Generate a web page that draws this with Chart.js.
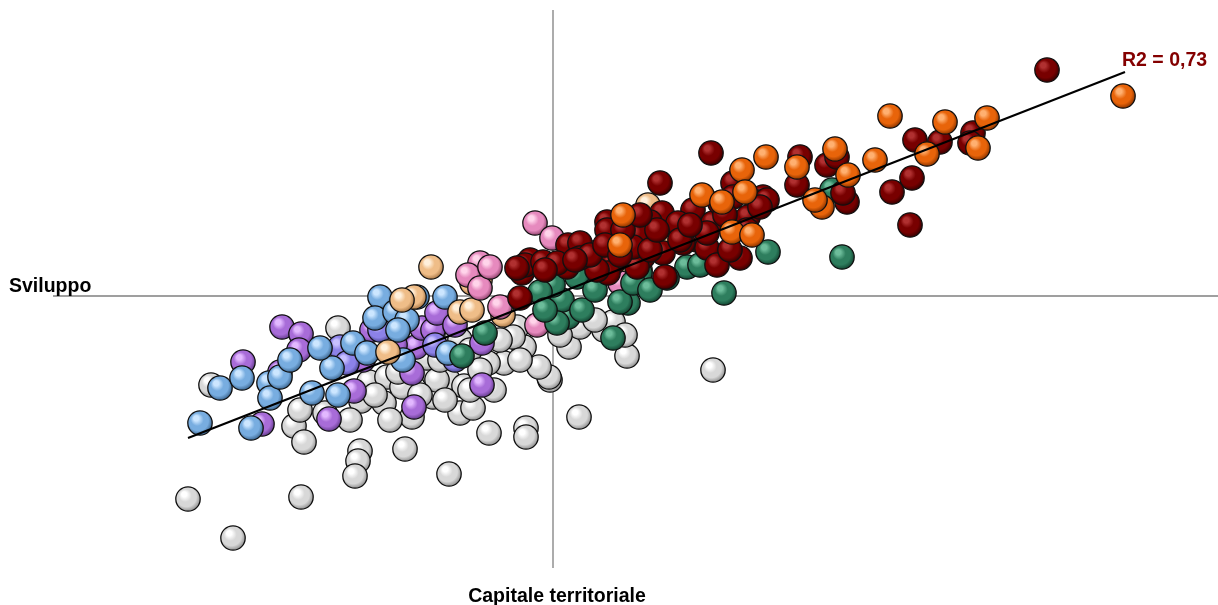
<!DOCTYPE html>
<html>
<head>
<meta charset="utf-8">
<script src="https://cdn.jsdelivr.net/npm/chart.js@4/dist/chart.umd.min.js"></script>
<style>
  body { margin: 0; background: #fff; }
  #wrap { width: 1218px; height: 605px; }
</style>
</head>
<body>
<div id="wrap"><canvas id="chart" width="1218" height="605"></canvas></div>
<script>
// scores: [capitale territoriale, sviluppo]
const white = [[-3.65,-2.03],[-3.20,-2.42],[-2.52,-2.01],[-3.42,-0.89],[-2.15,-0.32],[-2.59,-1.30],[-2.49,-1.46],
  [-1.93,-1.55],[-1.95,-1.65],[-1.98,-1.80],[-1.48,-1.53],[-1.04,-1.78],[-1.19,-0.79],[-1.20,-1.01],[-0.93,-1.17],
  [-1.69,-1.07],[-1.41,-1.21],[-1.92,-1.05],[-1.84,-0.86],[-1.66,-0.81],[-1.51,-0.91],[-1.05,-0.84],[-0.89,-0.90],
  [-2.28,-1.17],[-0.96,-0.41],[-1.26,-0.62],[-0.64,-1.37],[-0.27,-1.32],[-0.27,-1.41],[0.26,-1.21],[-0.03,-0.84],
  [-0.80,-1.12],[-0.59,-0.94],[-1.16,-0.84],[-0.29,-0.51],[-0.36,-0.31],[0.16,-0.51],[-0.04,-0.81],[-0.14,-0.71],
  [-0.49,-0.67],[-0.93,-0.44],[-0.40,-0.41],[0.51,-0.34],[0.60,-0.26],[0.74,-0.60],[0.72,-0.39],[0.27,-0.31],
  [-0.65,-0.67],[1.60,-0.74],[-0.83,-0.54],[-2.03,-1.24],[-1.78,-0.99],[-1.33,-0.99],[-1.08,-1.04],[-0.83,-0.94],
  [-0.73,-0.74],[-0.33,-0.64],[-0.53,-0.44],[-1.13,-0.64],[-1.55,-0.76],[0.07,-0.39],[0.42,-0.24],[-2.53,-1.14],
  [-1.63,-1.24]];
const purple = [[-2.71,-0.31],[-2.52,-0.38],[-2.54,-0.54],[-3.10,-0.66],[-2.73,-0.76],[-2.91,-1.28],[-2.24,-1.23],
  [-1.39,-1.11],[-1.99,-0.95],[-1.41,-0.77],[-1.37,-0.51],[-1.90,-0.64],[-1.81,-0.34],[-1.31,-0.32],[-1.20,-0.34],
  [-1.16,-0.17],[-0.71,-0.89],[-0.71,-0.47],[-1.68,-0.29],[-0.98,-0.29],[-1.58,-0.49]];
const periwinkle = [[-2.13,-0.51],[-2.06,-0.67],[-1.73,-0.34],[-1.18,-0.49],[-0.98,-0.64]];
const blue = [[-3.53,-1.27],[-3.33,-0.92],[-3.11,-0.82],[-2.84,-0.87],[-2.83,-1.02],[-2.73,-0.81],[-3.02,-1.32],
  [-2.41,-0.97],[-2.15,-0.99],[-2.21,-0.72],[-2.33,-0.52],[-2.00,-0.47],[-1.86,-0.57],[-1.73,-0.01],[-1.78,-0.22],
  [-1.58,-0.16],[-1.46,-0.24],[-1.55,-0.34],[-1.36,-0.01],[-1.08,-0.01],[-1.50,-0.64],[-1.05,-0.57],[-2.63,-0.64]];
const tan = [[-1.22,0.29],[-1.39,-0.01],[-1.51,-0.04],[-1.65,-0.56],[-0.93,-0.16],[-0.81,-0.14],[-0.50,-0.19],
  [-0.73,0.16],[-0.81,0.13],[0.95,0.91],[0.40,0.43],[1.07,0.56],[0.69,0.33],[0.87,0.26]];
const pink = [[-0.18,0.73],[-0.01,0.58],[-0.73,0.33],[-0.85,0.21],[-0.73,0.08],[-0.63,0.29],[-0.16,-0.29],
  [-0.53,-0.11],[0.67,0.13]];
const green = [[-0.91,-0.60],[-0.68,-0.37],[0.15,-0.21],[0.09,-0.04],[0.29,-0.14],[0.24,0.19],[0.00,0.11],
  [-0.13,0.04],[0.04,-0.27],[0.75,-0.07],[0.67,-0.06],[0.60,-0.42],[2.15,0.44],[2.89,0.39],[1.71,0.03],
  [1.34,0.29],[1.14,0.18],[0.87,0.23],[2.79,1.06],[0.80,0.13],[0.47,0.34],[0.42,0.06],[-0.08,-0.14],
  [0.97,0.06],[1.47,0.31]];
const red = [[4.94,2.26],[3.62,1.56],[3.87,1.54],[4.20,1.63],[4.17,1.53],[3.59,1.18],[3.39,1.04],[3.57,0.71],
  [2.94,0.94],[2.90,1.03],[2.47,1.39],[2.44,1.11],[2.74,1.31],[2.84,1.39],[1.58,1.43],[1.07,1.13],[1.80,1.13],
  [2.10,0.99],[2.04,0.94],[1.40,0.86],[1.60,0.73],[1.95,0.79],[1.80,0.99],[1.67,0.93],[1.09,0.83],[0.97,0.74],
  [1.25,0.73],[0.54,0.74],[0.54,0.66],[0.79,0.56],[1.44,0.56],[1.54,0.48],[1.30,0.53],[1.10,0.43],[0.90,0.39],
  [0.84,0.29],[1.12,0.19],[1.64,0.31],[1.87,0.38],[0.60,0.33],[0.55,0.23],[0.15,0.51],[0.27,0.53],[0.14,0.29],
  [0.44,0.26],[-0.33,-0.02],[-0.31,0.23],[-0.23,0.36],[-0.28,0.31],[-0.10,0.34],[0.04,0.33],[0.27,0.38],
  [-0.36,0.28],[2.14,0.96],[0.84,0.61],[0.80,0.49],[0.97,0.46],[1.04,0.66],[1.27,0.56],[1.54,0.63],[1.77,0.46],
  [1.94,0.66],[2.07,0.89],[0.37,0.41],[0.22,0.36],[-0.08,0.26],[0.70,0.66],[0.87,0.81],[1.37,0.71],[1.72,0.81],
  [0.52,0.51],[0.67,0.41]];
const orange = [[5.70,2.00],[3.37,1.80],[3.92,1.74],[4.34,1.78],[4.25,1.48],[3.74,1.42],[3.22,1.36],[2.82,1.47],
  [2.44,1.29],[2.95,1.21],[2.69,0.89],[2.62,0.96],[2.13,1.39],[1.89,1.26],[1.49,1.01],[1.69,0.94],[1.92,1.04],
  [1.79,0.64],[1.99,0.61],[0.70,0.81],[0.67,0.51]];
const trendX = [-3.65, 5.72];
const trendY = [-1.42, 2.24];
const r2Label = "R2 = 0,73";
const xTitle = "Capitale territoriale";
const yTitle = "Sviluppo";

// highlight, base, shadow
const palette = {
  white: ["#ffffff", "#d8d8d8", "#9c9c9c"],
  purple: ["#e2b8ff", "#a86cd8", "#70449a"],
  periwinkle: ["#c8c0ff", "#8c82e8", "#5650a0"],
  blue: ["#cce6ff", "#78ade0", "#46729e"],
  tan: ["#fff0dc", "#efbd88", "#b68452"],
  pink: ["#ffd4ea", "#e68abe", "#a0507c"],
  green: ["#6cbc9a", "#2e7e5e", "#17503a"],
  red: ["#b03030", "#780000", "#420000"],
  orange: ["#ffb070", "#e8640a", "#9c3c00"]
};

function sphere(cols) {
  const c = document.createElement("canvas");
  c.width = c.height = 28;
  const g = c.getContext("2d");
  const grad = g.createRadialGradient(9.5, 8.5, 0, 13, 12.5, 13);
  grad.addColorStop(0, cols[0]);
  grad.addColorStop(0.2, cols[0]);
  grad.addColorStop(0.5, cols[1]);
  grad.addColorStop(0.78, cols[1]);
  grad.addColorStop(1, cols[2]);
  g.beginPath();
  g.arc(14, 14, 12.2, 0, Math.PI * 2);
  g.fillStyle = grad;
  g.fill();
  g.lineWidth = 1.3;
  g.strokeStyle = "#111";
  g.stroke();
  return c;
}

function group(pts, name) {
  return {
    type: "scatter",
    data: pts.map(p => ({ x: p[0], y: p[1] })),
    pointStyle: sphere(palette[name]),
    clip: false
  };
}

const axesAndText = {
  id: "axesAndText",
  beforeDatasetsDraw(chart) {
    const { ctx, chartArea, scales } = chart;
    const x0 = scales.x.getPixelForValue(0);
    const y0 = scales.y.getPixelForValue(0);
    ctx.save();
    ctx.strokeStyle = "#808080";
    ctx.lineWidth = 1.3;
    ctx.beginPath();
    ctx.moveTo(chartArea.left, y0);
    ctx.lineTo(chartArea.right, y0);
    ctx.moveTo(x0, chartArea.top);
    ctx.lineTo(x0, chartArea.bottom);
    ctx.stroke();
    ctx.restore();
  },
  afterDraw(chart) {
    const { ctx, scales } = chart;
    const x0 = scales.x.getPixelForValue(0);
    const y0 = scales.y.getPixelForValue(0);
    ctx.save();
    ctx.font = "bold 19.5px 'Liberation Sans', Arial, sans-serif";
    ctx.textBaseline = "alphabetic";
    ctx.fillStyle = "#000";
    ctx.textAlign = "left";
    ctx.fillText(yTitle, 9, y0 - 4);
    ctx.textAlign = "center";
    ctx.fillText(xTitle, x0 + 4, 602);
    ctx.fillStyle = "#840000";
    ctx.textAlign = "left";
    const tx = scales.x.getPixelForValue(trendX[1]);
    const ty = scales.y.getPixelForValue(trendY[1]);
    ctx.fillText(r2Label, tx - 3, ty - 6);
    ctx.restore();
  }
};

new Chart(document.getElementById("chart"), {
  data: {
    datasets: [
      {
        type: "line",
        data: trendX.map((x, i) => ({ x: x, y: trendY[i] })),
        borderColor: "#000",
        borderWidth: 2.2,
        pointRadius: 0,
        fill: false
      },
      group(orange, "orange"),
      group(red, "red"),
      group(green, "green"),
      group(pink, "pink"),
      group(tan, "tan"),
      group(blue, "blue"),
      group(periwinkle, "periwinkle"),
      group(purple, "purple"),
      group(white, "white")
    ]
  },
  options: {
    responsive: false,
    animation: false,
    layout: { autoPadding: false, padding: { left: 53, right: 0, top: 10, bottom: 37 } },
    plugins: { legend: { display: false }, tooltip: { enabled: false } },
    scales: {
      x: { type: "linear", min: -5, max: 6.65, display: false },
      y: { type: "linear", min: -2.72, max: 2.86, display: false }
    }
  },
  plugins: [axesAndText]
});
</script>
</body>
</html>
